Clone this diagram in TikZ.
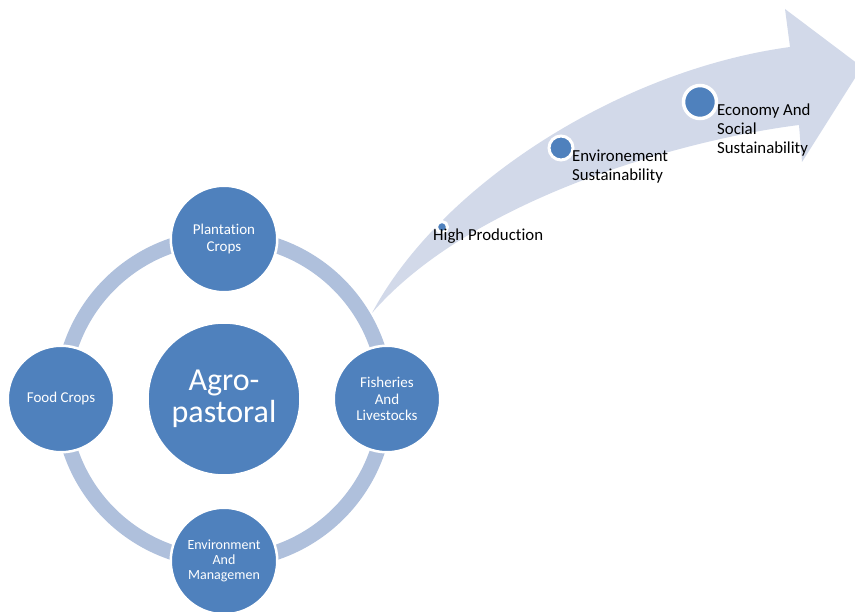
\documentclass[tikz,border=0pt]{standalone}
\usepackage{fontspec}
\setmainfont{Carlito}[Ligatures=NoCommon]
\definecolor{sblue}{HTML}{4F81BD}
\definecolor{sring}{HTML}{AFC0DC}
\definecolor{sarrow}{HTML}{D2D9E9}
\begin{document}
\begin{tikzpicture}[x=1pt,y=-1pt,
  sat/.style={circle,fill=sblue,draw=white,line width=2.5pt,minimum size=106.5pt,inner sep=0pt,text=white,align=center,font=\fontsize{15}{16.5}\selectfont},
  hub/.style={circle,fill=sblue,draw=white,line width=2.5pt,minimum size=153pt,inner sep=0pt,text=white,align=center,font=\fontsize{32}{32}\selectfont},
  dot/.style={circle,fill=sblue,draw=white,inner sep=0pt},
  lbl/.style={anchor=west,align=left,inner sep=0pt,text=black,font=\fontsize{16.8}{19}\selectfont}]
\useasboundingbox (0,0) rectangle (855,612);
\clip (0,0) rectangle (855,612);
\coordinate (ctr) at (224,399);
% ring
\draw[sring, line width=15pt] (ctr) circle[radius=162];
% arrow
\fill[sarrow] (372,313) .. controls (440,185) and (620,70) .. (790,47)
  -- (785,9) -- (862,67) -- (802,162) -- (799,125)
  .. controls (680,140) and (470,200) .. (372,313) -- cycle;
% circles
\node[hub] (hub) at (ctr) {Agro-\\pastoral};
\node[sat] (plant) at (224,239) {Plantation\\Crops};
\node[sat] (food) at (61,399) {Food Crops};
\node[sat] (fish) at (387,399) {Fisheries\\And\\Livestocks};
\node[sat, font=\fontsize{14}{15}\selectfont] (env) at (224,561) {Environment\\And\\Managemen};
% dots
\node[dot, minimum size=11pt, line width=3pt] (d1) at (442,227) {};
\node[dot, minimum size=24pt, line width=3pt] (d2) at (561,148) {};
\node[dot, minimum size=33pt, line width=3.5pt] (d3) at (700,102) {};
% labels
\node[lbl] (l1) at (433,236) {High Production};
\node[lbl] (l2) at (572,167) {Environement\\Sustainability};
\node[lbl] (l3) at (717,130) {Economy And\\Social\\Sustainability};
\end{tikzpicture}
\end{document}
